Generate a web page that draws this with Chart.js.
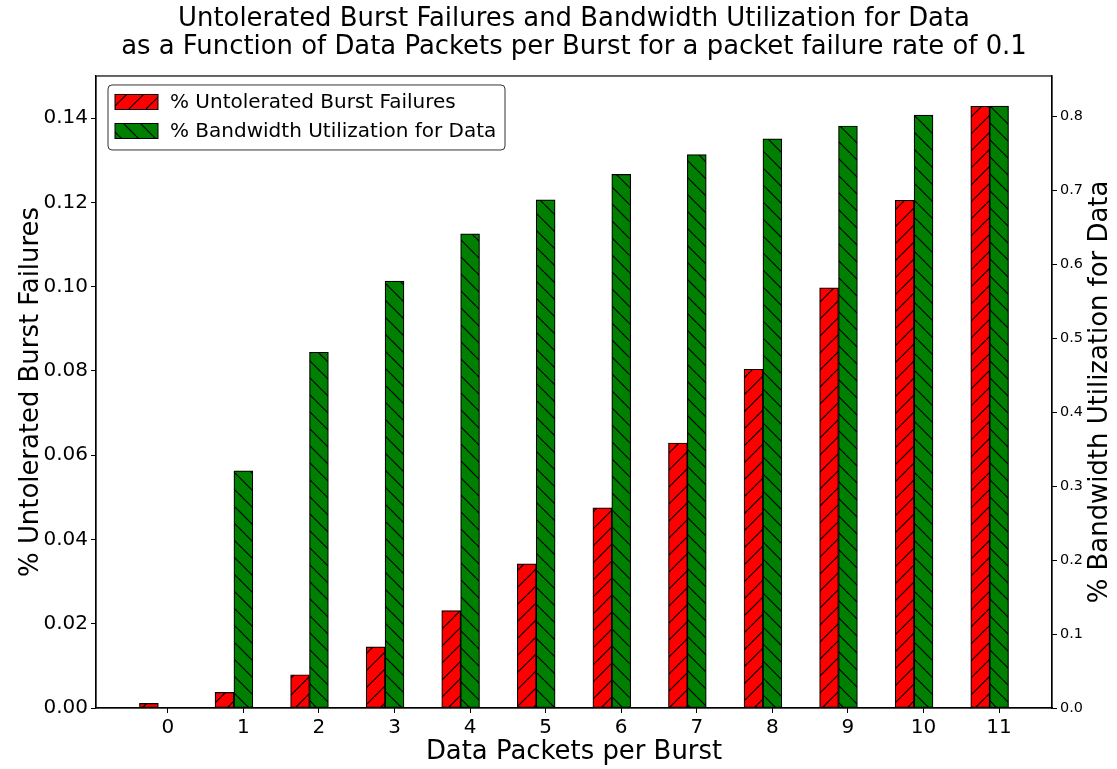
<!DOCTYPE html>
<html>
<head>
<meta charset="utf-8">
<script src="https://cdn.jsdelivr.net/npm/chart.js@4.4.1/dist/chart.umd.min.js"></script>
<style>
  body { margin: 0; background: #fff; }
  canvas { display: block; }
</style>
</head>
<body>
<canvas id="grafica" width="1117" height="769"></canvas>
<script>
// datos
const paquetes = [0, 1, 2, 3, 4, 5, 6, 7, 8, 9, 10, 11];
const fallosRafaga = [0.0011, 0.0037, 0.0079, 0.0145, 0.0231, 0.0342, 0.0475, 0.0629, 0.0804, 0.0997, 0.1205, 0.1428];
const usoAnchoBanda = [0, 0.3205, 0.4808, 0.5769, 0.641, 0.6868, 0.7212, 0.7479, 0.7692, 0.7867, 0.8013, 0.8136];

const etiquetas = ["% Untolerated Burst Failures", "% Bandwidth Utilization for Data"];
const titulo = [
  "Untolerated Burst Failures and Bandwidth Utilization for Data",
  "as a Function of Data Packets per Burst for a packet failure rate of 0.1",
];

const ANCHO_BARRA = 0.25;
const FUENTE = "'DejaVu Sans', sans-serif";

Chart.defaults.font.family = FUENTE;
Chart.defaults.color = "#000";

// patron de rayado estilo matplotlib
function crearRayado(color, invertido) {
  const s = 17;
  const c = document.createElement("canvas");
  c.width = s;
  c.height = s;
  const g = c.getContext("2d");
  g.fillStyle = color;
  g.fillRect(0, 0, s, s);
  g.strokeStyle = "#000";
  g.lineWidth = 1.2;
  g.beginPath();
  for (let k = -1; k <= 1; k++) {
    if (invertido) {
      g.moveTo(k * s, 0);
      g.lineTo(k * s + s, s);
    } else {
      g.moveTo(k * s, s);
      g.lineTo(k * s + s, 0);
    }
  }
  g.stroke();
  return g.createPattern(c, "repeat");
}

const rayadoRojo = crearRayado("#ff0000", false);
const rayadoVerde = crearRayado("#008000", true);

// marco completo alrededor del area de la grafica
const marco = {
  id: "marco",
  afterDraw(chart) {
    const { ctx, chartArea: a } = chart;
    ctx.save();
    ctx.strokeStyle = "#000";
    ctx.lineWidth = 1.2;
    ctx.strokeRect(a.left, a.top, a.right - a.left, a.bottom - a.top);
    ctx.restore();
  },
};

// titulo del eje derecho, leido de abajo hacia arriba
const tituloDerecho = {
  id: "tituloDerecho",
  afterDraw(chart) {
    const { ctx, chartArea: a } = chart;
    ctx.save();
    ctx.translate(1100, (a.top + a.bottom) / 2);
    ctx.rotate(-Math.PI / 2);
    ctx.font = "25.9px " + FUENTE;
    ctx.fillStyle = "#000";
    ctx.textAlign = "center";
    ctx.textBaseline = "middle";
    ctx.fillText(etiquetas[1], 0, 0);
    ctx.restore();
  },
};

// leyenda dentro del area
const leyenda = {
  id: "leyenda",
  afterDraw(chart) {
    const { ctx, chartArea: a } = chart;
    const x = a.left + 12;
    const y = a.top + 9;
    ctx.save();
    ctx.beginPath();
    ctx.roundRect(x, y, 397, 65, 4);
    ctx.fillStyle = "rgba(255,255,255,0.9)";
    ctx.fill();
    ctx.strokeStyle = "#333";
    ctx.lineWidth = 1;
    ctx.stroke();
    ctx.font = "20px " + FUENTE;
    ctx.textBaseline = "middle";
    chart.data.datasets.forEach((ds, i) => {
      const cy = y + 17 + i * 29;
      ctx.fillStyle = ds.backgroundColor;
      ctx.fillRect(x + 7, cy - 7.5, 43, 15);
      ctx.strokeStyle = "#000";
      ctx.lineWidth = 1;
      ctx.strokeRect(x + 7, cy - 7.5, 43, 15);
      ctx.fillStyle = "#000";
      ctx.fillText(ds.label, x + 62, cy + 1);
    });
    ctx.restore();
  },
};

const ctx = document.getElementById("grafica").getContext("2d");
new Chart(ctx, {
  type: "bar",
  data: {
    datasets: [
      {
        label: etiquetas[0],
        data: paquetes.map((p, i) => ({ x: p - ANCHO_BARRA, y: fallosRafaga[i] })),
        backgroundColor: rayadoRojo,
        borderColor: "#000",
        borderWidth: 1.2,
        borderSkipped: false,
        yAxisID: "y",
      },
      {
        label: etiquetas[1],
        data: paquetes.map((p, i) => ({ x: p, y: usoAnchoBanda[i] })),
        backgroundColor: rayadoVerde,
        borderColor: "#000",
        borderWidth: 1.2,
        borderSkipped: false,
        yAxisID: "y2",
      },
    ],
  },
  options: {
    responsive: false,
    animation: false,
    grouped: false,
    barPercentage: 1,
    categoryPercentage: 1,
    layout: { padding: 0 },
    plugins: {
      legend: { display: false },
      tooltip: { enabled: false },
      title: {
        display: true,
        fullSize: false, // centrado sobre el area de la grafica
        text: titulo,
        font: { size: 25.9, weight: "normal", lineHeight: 1.1 },
        color: "#000",
        padding: { top: 5, bottom: 14 },
      },
    },
    scales: {
      x: {
        type: "linear",
        min: -0.95,
        max: 11.7,
        offset: false,
        ticks: { stepSize: 1, includeBounds: false, font: { size: 20 }, padding: 3, maxRotation: 0, autoSkip: false },
        grid: { offset: false, drawOnChartArea: false, tickLength: 5, tickColor: "#000" },
        border: { color: "#000", width: 1.2 },
        title: { display: true, text: "Data Packets per Burst", font: { size: 25.9 }, padding: { top: 0, bottom: 1 } },
        afterFit(scale) { scale.height = 61; },
      },
      y: {
        position: "left",
        min: 0,
        max: 0.15,
        ticks: { stepSize: 0.02, includeBounds: false, font: { size: 20 }, padding: 3, callback: (v) => v.toFixed(2) },
        grid: { drawOnChartArea: false, tickLength: 5, tickColor: "#000" },
        border: { color: "#000", width: 1.2 },
        title: { display: true, text: etiquetas[0], font: { size: 25.9 }, padding: { top: 16, bottom: 0 } },
        afterFit(scale) { scale.width = 96; },
      },
      y2: {
        position: "right",
        min: 0,
        max: 0.8543,
        ticks: { stepSize: 0.1, includeBounds: false, font: { size: 14.4 }, padding: 3, callback: (v) => v.toFixed(1) },
        grid: { drawOnChartArea: false, tickLength: 5, tickColor: "#000" },
        border: { color: "#000", width: 1.2 },
        afterFit(scale) { scale.width = 65; },
      },
    },
  },
  plugins: [marco, tituloDerecho, leyenda],
});
</script>
</body>
</html>
